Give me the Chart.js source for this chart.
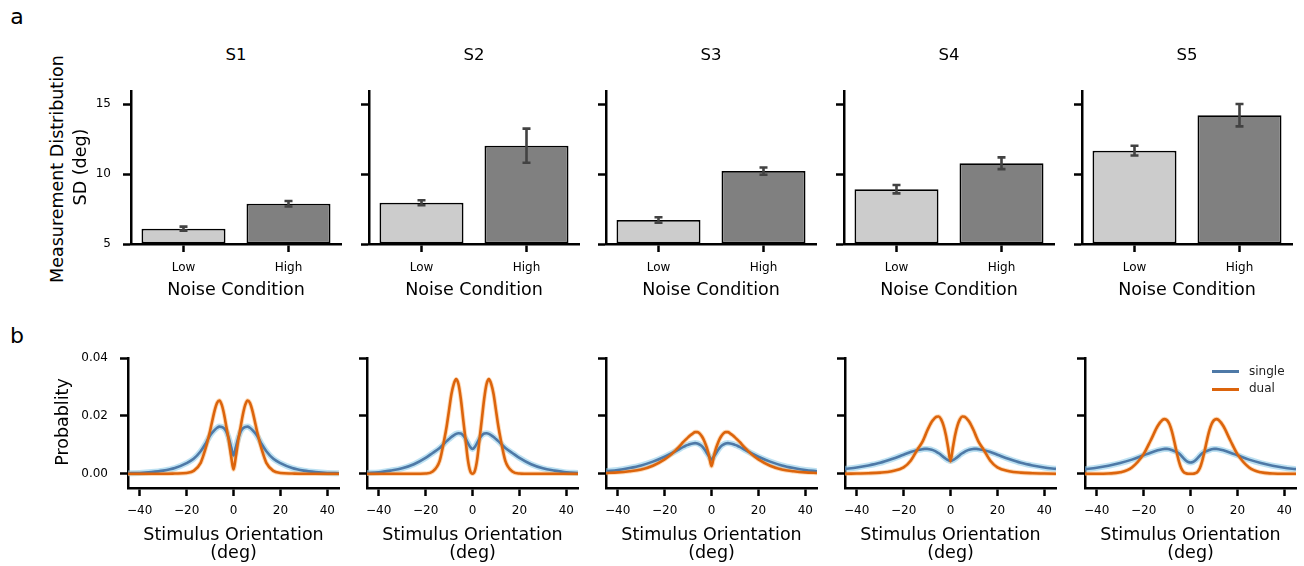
<!DOCTYPE html>
<html>
<head>
<meta charset="utf-8">
<script src="https://cdn.jsdelivr.net/npm/chart.js@4.4.0/dist/chart.umd.min.js"></script>
<style>
    body { margin: 0; background: #fff; font-family: "DejaVu Sans", sans-serif; }
    #fig { position: relative; width: 1304px; height: 566px; overflow: hidden; background: #fff; }
    #fig canvas { position: absolute; }
    .txt { position: absolute; transform: translate(-50%, -50%); line-height: 1; white-space: nowrap; color: #000; }
    .rot { transform: translate(-50%, -50%) rotate(-90deg); }
    .leg { position: absolute; height: 3px; width: 27px; }
    .legtxt { position: absolute; transform: translateY(-50%); line-height: 1; font-size: 12px; color: #222; }
</style>
</head>
<body>
<div id="fig"></div>
<script>
// ---- datos: panel a (SD de la distribución de medida) ----
const subjects = ['S1', 'S2', 'S3', 'S4', 'S5'];
const conditions = ['Low', 'High'];
const sdLow = [6.1, 7.95, 6.72, 8.92, 11.68];
const sdHigh = [7.88, 12.04, 10.22, 10.78, 14.22];
const errLow = [0.14, 0.18, 0.19, 0.3, 0.35];
const errHigh = [0.2, 1.22, 0.26, 0.42, 0.8];
const sdTicks = [5, 10, 15];
const sdTickLabels = ['5', '10', '15'];

// ---- datos: panel b (distribuciones de probabilidad) ----
const orientations = [-45, -40, -35, -30, -25, -20, -17, -14, -12, -11, -10, -9, -8, -7, -6, -5, -4, -3, -2, -1, 0,
    1, 2, 3, 4, 5, 6, 7, 8, 9, 10, 11, 12, 14, 17, 20, 25, 30, 35, 40, 45];

const singleS1 = [0.0002, 0.0003, 0.0006, 0.0011, 0.002, 0.0037, 0.0052, 0.0078, 0.0103, 0.0118, 0.0132, 0.0143, 0.0152, 0.0159, 0.0163, 0.0162, 0.0157, 0.0145, 0.0122, 0.0092, 0.0063,
    0.0092, 0.0122, 0.0145, 0.0157, 0.0162, 0.0163, 0.0159, 0.0152, 0.0143, 0.0132, 0.0118, 0.0103, 0.0078, 0.0052, 0.0037, 0.002, 0.0011, 0.0006, 0.0003, 0.0002];
const dualS1 = [0, 0, 0, 0, 0.0001, 0.0003, 0.001, 0.0038, 0.0085, 0.0115, 0.0148, 0.0185, 0.022, 0.0245, 0.0253, 0.0238, 0.0205, 0.016, 0.0115, 0.006, 0.0015,
    0.006, 0.0115, 0.016, 0.0205, 0.0238, 0.0253, 0.0245, 0.022, 0.0185, 0.0148, 0.0115, 0.0085, 0.0038, 0.001, 0.0003, 0.0001, 0, 0, 0, 0];

const singleS2 = [0.0003, 0.0005, 0.0011, 0.0019, 0.0033, 0.0055, 0.0072, 0.0089, 0.0105, 0.0113, 0.012, 0.0127, 0.0133, 0.0138, 0.014, 0.0139, 0.0133, 0.0122, 0.0107, 0.0093, 0.0086,
    0.0093, 0.0107, 0.0122, 0.0133, 0.0139, 0.014, 0.0138, 0.0133, 0.0127, 0.012, 0.0113, 0.0105, 0.0089, 0.0072, 0.0055, 0.0033, 0.0019, 0.0011, 0.0005, 0.0003];
const dualS2 = [0, 0, 0, 0, 0, 0.0001, 0.0008, 0.0045, 0.012, 0.0165, 0.022, 0.0275, 0.031, 0.0327, 0.031, 0.026, 0.019, 0.012, 0.005, 0.001, 0,
    0.001, 0.005, 0.012, 0.019, 0.026, 0.031, 0.0327, 0.031, 0.0275, 0.022, 0.0165, 0.012, 0.0045, 0.0008, 0.0001, 0, 0, 0, 0, 0];

const singleS3 = [0.0009, 0.0013, 0.002, 0.0029, 0.0042, 0.0059, 0.0071, 0.0084, 0.0093, 0.0097, 0.01, 0.0103, 0.0105, 0.0106, 0.0105, 0.0101, 0.0095, 0.0085, 0.0072, 0.006, 0.0049,
    0.006, 0.0072, 0.0085, 0.0095, 0.0101, 0.0105, 0.0106, 0.0105, 0.0103, 0.01, 0.0097, 0.0093, 0.0084, 0.0071, 0.0059, 0.0042, 0.0029, 0.002, 0.0013, 0.0009];
const dualS3 = [0.0003, 0.0005, 0.0009, 0.0015, 0.0028, 0.005, 0.0068, 0.0092, 0.011, 0.0118, 0.0126, 0.0133, 0.0139, 0.0144, 0.0144, 0.0139, 0.0128, 0.0112, 0.009, 0.006, 0.0026,
    0.006, 0.009, 0.0112, 0.0128, 0.0139, 0.0144, 0.0144, 0.0139, 0.0133, 0.0126, 0.0118, 0.011, 0.0092, 0.0068, 0.005, 0.0028, 0.0015, 0.0009, 0.0005, 0.0003];

const singleS4 = [0.0017, 0.0022, 0.0029, 0.0038, 0.0051, 0.0066, 0.0075, 0.0082, 0.0085, 0.0086, 0.0086, 0.0085, 0.0083, 0.008, 0.0076, 0.0071, 0.0065, 0.0058, 0.0052, 0.0047, 0.0044,
    0.0047, 0.0052, 0.0058, 0.0065, 0.0071, 0.0076, 0.008, 0.0083, 0.0085, 0.0086, 0.0086, 0.0085, 0.0082, 0.0075, 0.0066, 0.0051, 0.0038, 0.0029, 0.0022, 0.0017];
const dualS4 = [0, 0.0001, 0.0002, 0.0004, 0.0009, 0.0022, 0.0045, 0.0085, 0.011, 0.0128, 0.0148, 0.0165, 0.018, 0.019, 0.0197, 0.0198, 0.0188, 0.0167, 0.0135, 0.009, 0.0043,
    0.009, 0.0135, 0.0167, 0.0188, 0.0198, 0.0197, 0.019, 0.018, 0.0165, 0.0148, 0.0128, 0.011, 0.0085, 0.0045, 0.0022, 0.0009, 0.0004, 0.0002, 0.0001, 0];

const singleS5 = [0.0016, 0.0021, 0.0028, 0.0037, 0.0049, 0.0064, 0.0073, 0.0081, 0.0085, 0.0086, 0.0086, 0.0085, 0.0082, 0.0079, 0.0076, 0.0071, 0.0063, 0.0054, 0.0046, 0.0041, 0.0039,
    0.0041, 0.0046, 0.0054, 0.0063, 0.0071, 0.0076, 0.0079, 0.0082, 0.0085, 0.0086, 0.0086, 0.0085, 0.0081, 0.0073, 0.0064, 0.0049, 0.0037, 0.0028, 0.0021, 0.0016];
const dualS5 = [0, 0, 0.0001, 0.0005, 0.0022, 0.0068, 0.0115, 0.0165, 0.0186, 0.0189, 0.0185, 0.0172, 0.0148, 0.0115, 0.0078, 0.0045, 0.002, 0.0007, 0.0002, 0, 0,
    0, 0.0002, 0.0007, 0.002, 0.0045, 0.0078, 0.0115, 0.0148, 0.0172, 0.0185, 0.0189, 0.0186, 0.0165, 0.0115, 0.0068, 0.0022, 0.0005, 0.0001, 0, 0];

const singleAll = [singleS1, singleS2, singleS3, singleS4, singleS5];
const dualAll = [dualS1, dualS2, dualS3, dualS4, dualS5];
const oriTicks = [-40, -20, 0, 20, 40];
const oriTickLabels = ['\u221240', '\u221220', '0', '20', '40'];
const probTicks = [0, 0.02, 0.04];
const probTickLabels = ['0.00', '0.02', '0.04'];

// ---- layout ----
const fig = document.getElementById('fig');
const PAD = { l: 62, t: 10, r: 10, b: 44 };
const topLefts = [131, 369, 606, 844, 1082];
const topBox = { top: 91, w: 210, h: 153 };
const botLefts = [128, 367, 606, 845, 1085];
const botBox = { top: 358, w: 211, h: 130 };
const BLUE = '#4e79a7';
const ORANGE = '#dc640c';

Chart.defaults.font.family = '"DejaVu Sans", sans-serif';
Chart.defaults.color = '#000';

function addText(str, x, y, size, cls) {
    const d = document.createElement('div');
    d.className = 'txt' + (cls ? ' ' + cls : '');
    d.style.left = x + 'px';
    d.style.top = y + 'px';
    d.style.fontSize = size + 'px';
    d.textContent = str;
    fig.appendChild(d);
}

function makeCanvas(left, top, w, h) {
    const cv = document.createElement('canvas');
    cv.width = PAD.l + w + PAD.r;
    cv.height = PAD.t + h + PAD.b;
    cv.style.left = (left - PAD.l) + 'px';
    cv.style.top = (top - PAD.t) + 'px';
    cv.style.width = cv.width + 'px';
    cv.style.height = cv.height + 'px';
    fig.appendChild(cv);
    return cv;
}

// ancho/alto fijo del eje y sin padding extra de etiquetas, para que el area quede fija
function fixX(s) { s.height = PAD.b; s.paddingLeft = 0; s.paddingRight = 0; s.paddingTop = 0; s.paddingBottom = 0; }
function fixY(s) { s.width = PAD.l; s.paddingLeft = 0; s.paddingRight = 0; s.paddingTop = 0; s.paddingBottom = 0; }

// ejes estilo matplotlib: solo spines izq/abajo, ticks hacia fuera
function axisBase() {
    return {
        border: { display: true, color: '#000', width: 2.5 },
        grid: { display: true, drawOnChartArea: false, drawTicks: true, tickLength: 8, tickWidth: 2.5, tickColor: '#000', offset: false }
    };
}

const errorBars = {
    id: 'errorBars',
    afterDatasetsDraw(chart, args, opts) {
        const { ctx, scales: { x, y } } = chart;
        ctx.save();
        ctx.strokeStyle = '#424242';
        ctx.lineWidth = 2.6;
        opts.means.forEach((m, j) => {
            const px = x.getPixelForValue(j);
            const top = y.getPixelForValue(m + opts.errs[j]);
            const bot = y.getPixelForValue(m - opts.errs[j]);
            ctx.beginPath();
            ctx.moveTo(px, top); ctx.lineTo(px, bot);
            ctx.moveTo(px - 4, top); ctx.lineTo(px + 4, top);
            ctx.moveTo(px - 4, bot); ctx.lineTo(px + 4, bot);
            ctx.stroke();
        });
        ctx.restore();
    }
};

// ---- fila a: barras ----
subjects.forEach((name, i) => {
    const cv = makeCanvas(topLefts[i], topBox.top, topBox.w, topBox.h);
    const xAxis = Object.assign(axisBase(), {
        type: 'category', offset: true,
        ticks: { font: { size: 12 }, color: '#000', padding: 9 },
        afterFit: fixX
    });
    const yAxis = Object.assign(axisBase(), {
        min: 5, max: 15.95,
        afterBuildTicks: s => { s.ticks = sdTicks.map(v => ({ value: v })); },
        ticks: { display: i === 0, font: { size: 12 }, color: '#000', padding: 12, callback: (v, idx) => sdTickLabels[idx] },
        afterFit: fixY
    });
    new Chart(cv, {
        type: 'bar',
        data: {
            labels: conditions,
            datasets: [{
                data: [sdLow[i], sdHigh[i]],
                base: 5,
                backgroundColor: ['#cccccc', '#808080'],
                borderColor: '#000',
                borderWidth: 1.8,
                borderSkipped: false,
                barPercentage: 0.8,
                categoryPercentage: 1
            }]
        },
        options: {
            responsive: false, animation: false, devicePixelRatio: 1,
            layout: { padding: { left: 0, top: PAD.t, right: PAD.r, bottom: 0 } },
            plugins: {
                legend: { display: false }, tooltip: { enabled: false },
                errorBars: { means: [sdLow[i], sdHigh[i]], errs: [errLow[i], errHigh[i]] }
            },
            scales: { x: xAxis, y: yAxis }
        },
        plugins: [errorBars]
    });
    addText(name, topLefts[i] + topBox.w / 2, 54.5, 16.5);
    addText('Noise Condition', topLefts[i] + topBox.w / 2, 290, 17.5);
});

// ---- fila b: curvas ----
const pts = ys => orientations.map((x, k) => ({ x: x, y: ys[k] }));
function lineDs(label, ys, color, width) {
    return { label: label, data: pts(ys), borderColor: color, borderWidth: width, pointRadius: 0, fill: false, cubicInterpolationMode: 'monotone' };
}

subjects.forEach((name, i) => {
    const cv = makeCanvas(botLefts[i], botBox.top, botBox.w, botBox.h);
    const xAxis = Object.assign(axisBase(), {
        type: 'linear', min: -45, max: 45,
        afterBuildTicks: s => { s.ticks = oriTicks.map(v => ({ value: v })); },
        ticks: { font: { size: 12 }, color: '#000', padding: 8, callback: (v, idx) => oriTickLabels[idx] },
        afterFit: fixX
    });
    const yAxis = Object.assign(axisBase(), {
        type: 'linear', min: -0.0049, max: 0.04,
        afterBuildTicks: s => { s.ticks = probTicks.map(v => ({ value: v })); },
        ticks: { display: i === 0, font: { size: 12 }, color: '#000', padding: 12, callback: (v, idx) => probTickLabels[idx] },
        afterFit: fixY
    });
    new Chart(cv, {
        type: 'line',
        data: {
            datasets: [
                lineDs('dual', dualAll[i], ORANGE, 2.6),
                lineDs('single', singleAll[i], BLUE, 2.6),
                lineDs('dual ci', dualAll[i], 'rgba(253,170,90,0.45)', 4.5),
                lineDs('single ci', singleAll[i], 'rgba(135,200,232,0.55)', 6)
            ]
        },
        options: {
            responsive: false, animation: false, devicePixelRatio: 1,
            layout: { padding: { left: 0, top: PAD.t, right: PAD.r, bottom: 0 } },
            plugins: { legend: { display: false }, tooltip: { enabled: false } },
            scales: { x: xAxis, y: yAxis }
        }
    });
    addText('Stimulus Orientation', botLefts[i] + botBox.w / 2, 535, 17.5);
    addText('(deg)', botLefts[i] + botBox.w / 2, 553, 17.5);
});

// ---- textos generales ----
addText('a', 17, 16.5, 22);
addText('b', 17, 335.5, 22);
addText('Measurement Distribution', 58, 169, 17.5, 'rot');
addText('SD (deg)', 81, 167, 17.5, 'rot');
addText('Probablity', 62.5, 422, 17.5, 'rot');

// leyenda (panel S5)
[['single', BLUE, 371.7], ['dual', ORANGE, 389]].forEach(([lab, col, y]) => {
    const ln = document.createElement('div');
    ln.className = 'leg';
    ln.style.left = '1212px';
    ln.style.top = (y - 1.5) + 'px';
    ln.style.background = col;
    fig.appendChild(ln);
    const t = document.createElement('div');
    t.className = 'legtxt';
    t.style.left = '1249px';
    t.style.top = (y - 1) + 'px';
    t.textContent = lab;
    fig.appendChild(t);
});
</script>
</body>
</html>
